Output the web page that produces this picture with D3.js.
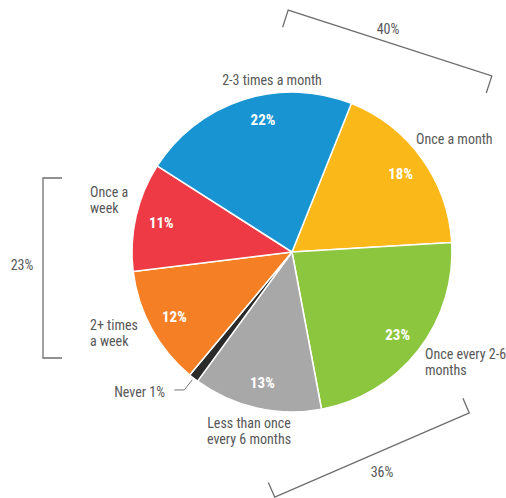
<!DOCTYPE html>
<html>
<head>
<meta charset="utf-8">
<script src="https://cdn.jsdelivr.net/npm/d3@7"></script>
<style>
  body { margin: 0; background: #fff; }
  text { font-family: Roboto, "DejaVu Sans", sans-serif; font-stretch: condensed; }
</style>
</head>
<body>
<script>
const width = 506
const height = 498

// data, clockwise from the top right
const categories = ["Once a month", "Once every 2-6 months", "Less than once every 6 months",
  "Never", "2+ times a week", "Once a week", "2-3 times a month"]
const shares = [18, 23, 13, 1, 12, 11, 22]
const colors = ["#fbb819", "#8cc63f", "#a8a8a8", "#2a2a2a", "#f47f25", "#ee3a45", "#1794d1"]
// bracketed groups (indexes into categories)
const groups = [[6, 0], [1, 2], [4, 5]]

const cx = 292, cy = 252, radius = 160
const startAngle = 0.38

// outside label layout
const outside = [
  {lines: ["Once a month"], x: 416, y: 144, anchor: "start"},
  {lines: ["Once every 2-6", "months"], x: 425, y: 359, anchor: "start"},
  {lines: ["Less than once", "every 6 months"], x: 249, y: 428, anchor: "middle"},
  {lines: ["Never 1%"], x: 165, y: 397, anchor: "end"},
  {lines: ["2+ times", "a week"], x: 90, y: 330, anchor: "start"},
  {lines: ["Once a", "week"], x: 90, y: 197, anchor: "start"},
  {lines: ["2-3 times a month"], x: 272, y: 85, anchor: "middle"}
]
// brackets: centre, rotation (deg), half length, arm, text offset
const brackets = [
  {x: 390, y: 43, rot: 17.9, half: 107, arm: 18, tx: 388, ty: 34},
  {x: 372, y: 455, rot: -23.4, half: 106, arm: -16, tx: 382, ty: 477},
  {x: 43, y: 268, rot: 90, half: 90, arm: -19, tx: 22, ty: 270}
]

const svg = d3.select("body").append("svg")
    .attr("width", width)
    .attr("height", height)
    .attr("viewBox", [0, 0, width, height])

const pie = d3.pie().sort(null).value(d => d)
    .startAngle(startAngle).endAngle(startAngle + 2 * Math.PI)
const arcs = pie(shares)
const arc = d3.arc().innerRadius(0).outerRadius(radius)
const labelArc = d3.arc().innerRadius(134).outerRadius(134)

const g = svg.append("g").attr("transform", `translate(${cx},${cy})`)

g.selectAll("path")
  .data(arcs)
  .join("path")
    .attr("d", arc)
    .attr("fill", (d, i) => colors[i])
    .attr("stroke", "#fff")
    .attr("stroke-width", 1.5)
    .attr("stroke-linejoin", "round")

// percent labels inside, skip the tiny slice
g.selectAll("text.pct")
  .data(arcs.filter(d => d.data >= 5))
  .join("text")
    .attr("class", "pct")
    .attr("transform", d => {
      let [x, y] = labelArc.centroid(d)
      if (d.index == 6) { x += 12; y -= 5 }
      return `translate(${x},${y})`
    })
    .attr("text-anchor", "middle")
    .attr("dy", "0.36em")
    .attr("fill", "#fff")
    .attr("font-weight", "bold")
    .attr("font-size", 15)
    .text(d => d.data + "%")

// outside labels
svg.append("g")
  .selectAll("text")
  .data(outside)
  .join("text")
    .attr("x", d => d.x)
    .attr("y", d => d.y)
    .attr("text-anchor", d => d.anchor)
    .attr("fill", "#585858")
    .attr("font-size", 14)
    .selectAll("tspan")
    .data(d => d.lines.map(l => ({l, x: d.x})))
    .join("tspan")
      .attr("x", d => d.x)
      .attr("dy", (d, i) => i ? 16 : 0)
      .text(d => d.l)

// leader for the "Never" slice
const never = arcs[3]
const mid = (never.startAngle + never.endAngle) / 2
const p1 = [cx + 162 * Math.sin(mid), cy - 162 * Math.cos(mid)]
const p2 = [cx + 175 * Math.sin(mid), cy - 175 * Math.cos(mid)]
svg.append("path")
    .attr("d", d3.line()([p1, p2, [p2[0] - 10, p2[1]]]))
    .attr("fill", "none")
    .attr("stroke", "#777")
    .attr("stroke-width", 1)

// group brackets
const b = svg.append("g").selectAll("g")
  .data(brackets.map((d, i) => ({...d, total: d3.sum(groups[i], j => shares[j])})))
  .join("g")

b.append("path")
    .attr("transform", d => `translate(${d.x},${d.y}) rotate(${d.rot})`)
    .attr("d", d => d3.line()([[-d.half, d.arm], [-d.half, 0], [d.half, 0], [d.half, d.arm]]))
    .attr("fill", "none")
    .attr("stroke", "#6e6e6e")
    .attr("stroke-width", 1.3)

b.append("text")
    .attr("x", d => d.tx)
    .attr("y", d => d.ty)
    .attr("text-anchor", "middle")
    .attr("fill", "#585858")
    .attr("font-size", 14)
    .text(d => d.total + "%")
</script>
</body>
</html>
